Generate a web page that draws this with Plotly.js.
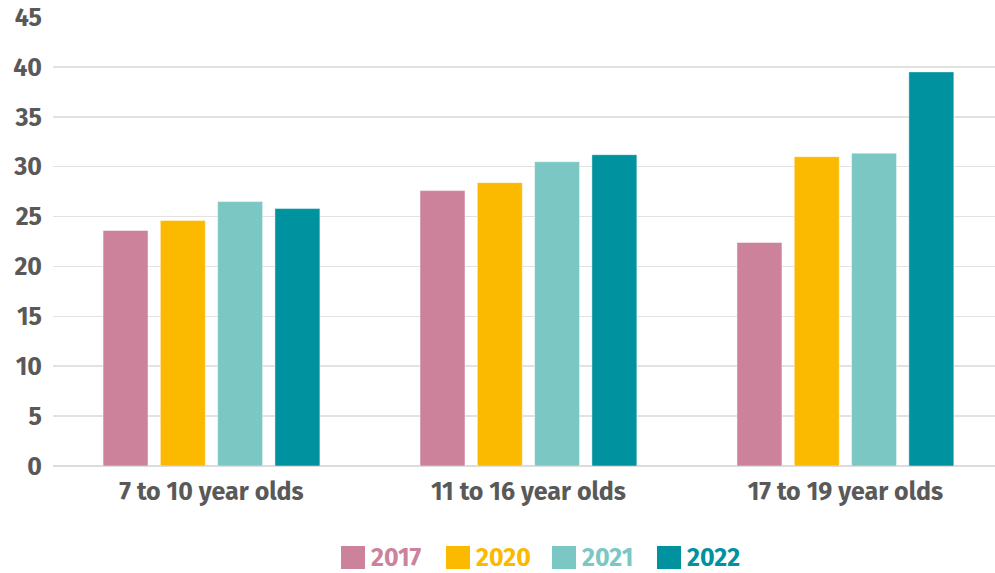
<!DOCTYPE html>
<html>
<head>
<meta charset="utf-8">
<script src="https://cdn.plot.ly/plotly-3.0.1.min.js"></script>
<style>html,body{margin:0;padding:0;background:#fff;}#chart{width:995px;height:573px;}</style>
</head>
<body>
<div id="chart"></div>
<script>
const categories = ["7 to 10 year olds", "11 to 16 year olds", "17 to 19 year olds"];
const seriesNames = ["2017", "2020", "2021", "2022"];
const values2017 = [23.6, 27.6, 22.4];
const values2020 = [24.6, 28.4, 31.0];
const values2021 = [26.5, 30.5, 31.35];
const values2022 = [25.8, 31.2, 39.5];
const seriesColors = ["#CD829C", "#FBB900", "#7BC7C3", "#00929F"];
const yTickValues = [0, 5, 10, 15, 20, 25, 30, 35, 40, 45];

const allValues = [values2017, values2020, values2021, values2022];
const FONT = "'Fira Sans', 'Open Sans', sans-serif";
const TEXT = "#595959";
const FS = 25;

const traces = seriesNames.map((name, i) => ({
  type: "bar",
  name: name,
  x: categories,
  y: allValues[i],
  marker: {color: seriesColors[i], line: {color: "rgba(255,255,255,0.45)", width: 1}},
  showlegend: false,
  hoverinfo: "x+y+name"
}));

// custom legend (large square swatches, coloured text)
const legendX = [341, 446, 552, 657];
const W = 995, H = 573;
const shapes = [];
const annotations = [];
seriesNames.forEach((name, i) => {
  const x0 = legendX[i];
  shapes.push({type: "rect", xref: "paper", yref: "paper",
    x0: (x0 - 53) / (W - 53), x1: (x0 + 24 - 53) / (W - 53),
    y0: (466 - 569) / (466 - 17) , y1: (466 - 546) / (466 - 17),
    fillcolor: seriesColors[i], line: {width: 0}});
  annotations.push({xref: "paper", yref: "paper", x: (x0 + 28 - 53) / (W - 53),
    y: (466 - 557.5) / (466 - 17), xanchor: "left", yanchor: "middle", showarrow: false,
    text: "<b>" + name + "</b>", font: {family: FONT, size: FS, color: seriesColors[i]}});
});

const layout = {
  width: W, height: H,
  margin: {l: 53, r: 0, t: 17, b: 107},
  paper_bgcolor: "#fff", plot_bgcolor: "#fff",
  barmode: "group", bargap: 0.277, bargroupgap: 0.215,
  font: {family: FONT, color: TEXT, size: FS, weight: 700},
  xaxis: {type: "category", range: [-0.5, 2.472], showgrid: false, zeroline: false,
    showline: false, ticks: "", ticklabelstandoff: 8,
    tickfont: {family: FONT, size: FS, color: TEXT, weight: 700}},
  yaxis: {range: [0, 45], tickvals: yTickValues, ticktext: yTickValues.map(String),
    showgrid: true, gridcolor: "#e2e2e2", gridwidth: 1.5,
    zeroline: true, zerolinecolor: "#dcdcdc", zerolinewidth: 1.5, showline: false,
    ticks: "", ticklabelstandoff: 10,
    tickfont: {family: FONT, size: FS, color: TEXT, weight: 700}},
  shapes: shapes,
  annotations: annotations,
  showlegend: false
};

Plotly.newPlot("chart", traces, layout, {displayModeBar: false, staticPlot: true});
</script>
</body>
</html>
